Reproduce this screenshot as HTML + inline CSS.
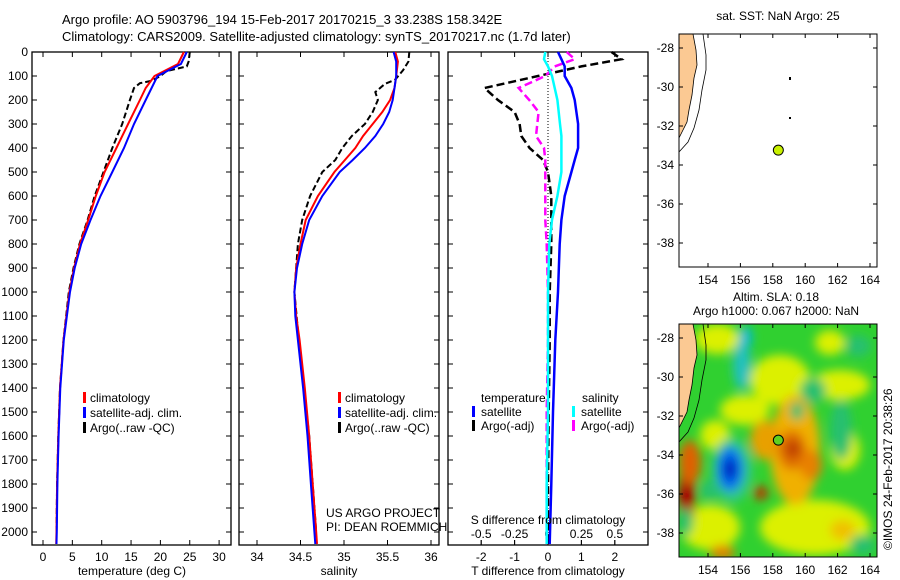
<!DOCTYPE html>
<html><head><meta charset="utf-8"><style>
body{margin:0;background:#fff;}
svg{display:block;font-family:"Liberation Sans",sans-serif;}
text{font-size:12px;fill:#000;}
</style></head><body>
<svg id="c" width="900" height="580" viewBox="0 0 900 580">
<defs>
<clipPath id="mapclip"><rect x="679" y="324" width="198" height="233"/></clipPath>
<filter id="blur" x="-20%" y="-20%" width="140%" height="140%"><feGaussianBlur stdDeviation="5"/></filter>
</defs>
<text x="62" y="24" style="font-size:13px">Argo profile: AO 5903796_194 15-Feb-2017 20170215_3 33.238S 158.342E</text>
<text x="62" y="41" style="font-size:13px">Climatology: CARS2009. Satellite-adjusted climatology: synTS_20170217.nc (1.7d later)</text>
<g id="g1"></g>
<g id="g2"></g>
<g id="g3"></g>
<g id="g4"></g>
<g id="g5"></g>
<text transform="translate(892,550) rotate(-90)" style="font-size:12px">©IMOS 24-Feb-2017 20:38:26</text>
</svg>
<script>
// ---- data ----
const depthTicks=[0,100,200,300,400,500,600,700,800,900,1000,1100,1200,1300,1400,1500,1600,1700,1800,1900,2000];
const tTicks=[0,5,10,15,20,25,30];
const sTicks=[34,34.5,35,35.5,36];
const tdTicks=[-2,-1,0,1,2];
const sdTicks=[-0.5,-0.25,0,0.25,0.5];
const sdTickLabels=["-0.5","-0.25","0","0.25","0.5"];
const climTD=[0,50,100,150,200,300,400,500,600,700,800,900,1000,1200,1400,1600,1800,2000,2050];
const climT=[24,23,19,17.5,16.5,14.5,12.5,10.5,9,7.7,6.3,5.3,4.5,3.5,2.9,2.6,2.4,2.3,2.25];
const satT=[24.5,23.5,19.5,18.5,17.5,15.5,13.8,11.8,9.8,8.1,6.5,5.4,4.6,3.55,2.95,2.65,2.45,2.35,2.3];
const argoTD=[0,40,60,80,100,120,130,150,200,300,400,500,600,700,800,900,1000,1200,1400,1600,1800,2000];
const argoT=[25,24.8,24.5,21,20,18.5,16.5,15.5,14.8,13.5,11.8,10.3,8.8,7.6,6.2,5.2,4.4,3.5,2.9,2.6,2.4,2.3];
const salD=[0,40,100,150,200,250,300,350,400,450,500,600,700,800,900,1000,1100,1200,1400,1600,1800,2000,2050];
const climS=[35.59,35.62,35.6,35.58,35.53,35.44,35.33,35.22,35.13,35.01,34.89,34.7,34.56,34.5,34.45,34.43,34.45,34.49,34.55,34.6,34.64,34.68,34.69];
const satS=[35.57,35.6,35.6,35.58,35.56,35.52,35.45,35.36,35.24,35.1,34.95,34.75,34.6,34.52,34.46,34.43,34.44,34.47,34.53,34.58,34.62,34.66,34.67];
const argoSD=[0,40,75,115,133,167,200,250,300,350,400,450,500,600,700,800,1000,1200,1400,1600,1800,2000];
const argoS=[35.75,35.74,35.68,35.59,35.47,35.36,35.39,35.33,35.24,35.09,34.98,34.9,34.75,34.61,34.52,34.47,34.43,34.48,34.54,34.6,34.64,34.68];
const diffD=[0,30,60,100,150,200,250,300,350,400,450,500,600,700,800,1000,1200,1500,1800,2050];
const satTdiff=[0.3,0.4,0.5,0.5,0.7,0.8,0.85,0.9,0.9,0.9,0.8,0.7,0.5,0.4,0.35,0.3,0.22,0.15,0.1,0.05];
const satSdiff=[-0.02,-0.03,0,0.03,0.05,0.07,0.08,0.09,0.1,0.1,0.1,0.1,0.07,0.03,0.01,0,0,0,-0.01,-0.01];
const argoTdiff=[1.9,2.2,1,-0.3,-1.9,-1.5,-1.0,-0.85,-0.8,-0.55,-0.15,0,0.1,0.1,0.1,0.05,0.05,0.02,0,0];
const argoSdiff=[0.14,0.2,0.05,-0.02,-0.22,-0.14,-0.07,-0.08,-0.09,-0.03,-0.02,-0.02,-0.02,-0.02,-0.01,0,0,-0.01,-0.01,-0.01];
const lonTicks=[154,156,158,160,162,164];
const latTicks=[-28,-30,-32,-34,-36,-38];
const floatLon=158.342, floatLat=-33.238;
// ---- helpers ----
const NS="http://www.w3.org/2000/svg";
function mk(parent,tag,attrs){const e=document.createElementNS(NS,tag);for(const k in attrs)e.setAttribute(k,attrs[k]);parent.appendChild(e);return e;}
const yD=d=>52+d*0.24;
const xT=t=>43+t*5.87;
const xS=s=>257+(s-34)*87;
const xTd=v=>548+v*33.4;
const xSd=v=>548+v*133.6;
function frame(g,x0,x1){const r=mk(g,'rect',{x:x0,y:52,width:x1-x0,height:493,fill:'none',stroke:'#000','stroke-width':1.3});
}
function yAxis(g,x0,x1,labels){depthTicks.forEach(d=>{const y=yD(d);mk(g,'line',{x1:x0,x2:x0+5,y1:y,y2:y,stroke:'#000'});mk(g,'line',{x1:x1-5,x2:x1,y1:y,y2:y,stroke:'#000'});
if(labels){const t=mk(g,'text',{x:x0-4,y:y+4,'text-anchor':'end'});t.textContent=d;}});}
function xAxis(g,ticks,labs,fx,y){ticks.forEach((v,i)=>{const x=fx(v);mk(g,'line',{x1:x,x2:x,y1:545,y2:540,stroke:'#000'});mk(g,'line',{x1:x,x2:x,y1:52,y2:57,stroke:'#000'});
const t=mk(g,'text',{x:x,y:y,'text-anchor':'middle'});t.textContent=labs[i];});}
function line(g,xs,ds,fx,col,dash,name,w){const p=xs.map((v,i)=>(i?'L':'M')+fx(v).toFixed(1)+','+yD(ds[i]).toFixed(1)).join('');
const e=mk(g,'path',{d:p,fill:'none',stroke:col,'stroke-width':w||2});if(dash)e.setAttribute('stroke-dasharray',dash);
}
function txt(g,x,y,s,name,anchor){const t=mk(g,'text',{x:x,y:y,'text-anchor':anchor||'start'});t.textContent=s;return t;}
function legMark(g,x,y,col,name){const r=mk(g,'rect',{x:x,y:y-10,width:3,height:11,fill:col});}
// ---- panel 1 ----
const g1=document.getElementById('g1');
frame(g1,32,231);yAxis(g1,32,231,true);xAxis(g1,tTicks,tTicks,xT,561);
line(g1,argoT,argoTD,xT,'#000','6,3','argo-temperature-line');
line(g1,climT,climTD,xT,'#f00',null,'climatology-temperature-line');
line(g1,satT,climTD,xT,'#00f',null,'satellite-temperature-line');
txt(g1,132,575,'temperature (deg C)','x-axis-title','middle');
[['#f00','climatology'],['#00f','satellite-adj. clim.'],['#000','Argo(..raw -QC)']].forEach((l,i)=>{legMark(g1,83,402+i*15,l[0],'legend-marker');txt(g1,90,402+i*15,l[1],'legend-entry');});
// ---- panel 2 ----
const g2=document.getElementById('g2');
frame(g2,239,439);yAxis(g2,239,439,false);xAxis(g2,sTicks,sTicks,xS,561);
line(g2,argoS,argoSD,xS,'#000','6,3','argo-salinity-line');
line(g2,climS,salD,xS,'#f00',null,'climatology-salinity-line');
line(g2,satS,salD,xS,'#00f',null,'satellite-salinity-line');
txt(g2,339,575,'salinity','x-axis-title','middle');
[['#f00','climatology'],['#00f','satellite-adj. clim.'],['#000','Argo(..raw -QC)']].forEach((l,i)=>{legMark(g2,338,402+i*15,l[0],'legend-marker');txt(g2,345,402+i*15,l[1],'legend-entry');});
txt(g2,326,517,'US ARGO PROJECT','credit-project');txt(g2,326,531,'PI: DEAN ROEMMICH','credit-pi');
// ---- panel 3 ----
const g3=document.getElementById('g3');
frame(g3,448,648);yAxis(g3,448,648,false);
tdTicks.forEach(v=>{const x=xTd(v);mk(g3,'line',{x1:x,x2:x,y1:545,y2:540,stroke:'#000'});mk(g3,'line',{x1:x,x2:x,y1:52,y2:57,stroke:'#000'});txt(g3,x,561,String(v),'t-diff-tick-label','middle');});
sdTicks.forEach((v,i)=>{const x=xSd(v);mk(g3,'line',{x1:x,x2:x,y1:545,y2:540,stroke:'#000'});txt(g3,x,538,sdTickLabels[i],'s-diff-tick-label','middle');});
mk(g3,'line',{x1:548,x2:548,y1:52,y2:545,stroke:'#000','stroke-dasharray':'1,2'});
line(g3,argoTdiff,diffD,xTd,'#000','8,4','argo-t-diff-line',2.5);
line(g3,argoSdiff,diffD,xSd,'#f0f','8,4','argo-s-diff-line',2.5);
line(g3,satSdiff,diffD,xSd,'#0ff',null,'satellite-s-diff-line',2.5);
line(g3,satTdiff,diffD,xTd,'#00f',null,'satellite-t-diff-line',2.5);
txt(g3,481,402,'temperature','legend-heading');txt(g3,582,402,'salinity','legend-heading');
legMark(g3,472,416,'#00f','legend-marker');txt(g3,481,416,'satellite','legend-entry');
legMark(g3,472,430,'#000','legend-marker');txt(g3,481,430,'Argo(-adj)','legend-entry');
legMark(g3,572,416,'#0ff','legend-marker');txt(g3,581,416,'satellite','legend-entry');
legMark(g3,572,430,'#f0f','legend-marker');txt(g3,581,430,'Argo(-adj)','legend-entry');
txt(g3,548,524,'S difference from climatology','s-axis-title','middle');
txt(g3,548,575,'T difference from climatology','t-axis-title','middle');
// ---- maps ----
const xL=l=>708+(l-154)*16.2;
function mapAxes(g,top,off){mk(g,'rect',{x:679,y:top,width:198,height:233,fill:'none',stroke:'#000'});
lonTicks.forEach(l=>{const x=xL(l);mk(g,'line',{x1:x,x2:x,y1:top,y2:top+4,stroke:'#000'});mk(g,'line',{x1:x,x2:x,y1:top+233,y2:top+229,stroke:'#000'});txt(g,x,top+250,String(l),'lon-tick-label','middle');});
latTicks.forEach(a=>{const y=off+48+(-28-a)*19.5;mk(g,'line',{x1:679,x2:683,y1:y,y2:y,stroke:'#000'});mk(g,'line',{x1:877,x2:873,y1:y,y2:y,stroke:'#000'});txt(g,674,y+4,String(a),'lat-tick-label','end');});}
const g4=document.getElementById('g4');
txt(g4,778,20,'sat. SST: NaN Argo: 25','sst-map-title','middle');
mk(g4,'path',{d:'M679,34 L693,34 L696,50 L697,65 L694,78 L692,95 L689,110 L687,122 L683,130 L679,138 Z',fill:'#fbc993',stroke:'#000','stroke-width':0.8});
mk(g4,'path',{d:'M703,34 L706,55 L706,70 L702,90 L699,110 L694,128 L688,142 L679,152',fill:'none',stroke:'#000','stroke-width':0.8});
mk(g4,'rect',{x:789,y:77,width:2,height:3,fill:'#000'});mk(g4,'rect',{x:789,y:117,width:2,height:2,fill:'#000'});
mapAxes(g4,34,0);
const fx=xL(floatLon), fyTop=48+(-28-floatLat)*19.5;
const c1=mk(g4,'circle',{cx:fx,cy:fyTop,r:5,fill:'#c8f000',stroke:'#000'});
const g5=document.getElementById('g5');
txt(g5,776,301,'Altim. SLA: 0.18','sla-title','middle');txt(g5,776,315,'Argo h1000: 0.067 h2000: NaN','height-title','middle');
const cg=mk(g5,'g',{'clip-path':'url(#mapclip)'});
mk(cg,'rect',{x:679,y:324,width:198,height:233,fill:'#30d030'});
const bg=mk(cg,'g',{filter:'url(#blur)'});
[['#dcf000',695,324,45,30],['#dcf000',720,395,50,30],['#dcf000',750,355,60,50],['#dcf000',810,370,60,30],['#dcf000',815,330,30,25],['#dcf000',760,500,110,55],['#dcf000',680,505,60,45],['#dcf000',700,420,30,30],['#dcf000',830,430,30,40],
['#f0b000',770,395,50,110],['#e8a000',750,420,30,40],['#e07000',778,430,28,40],['#c04000',785,440,16,18],['#c03000',754,486,14,14],['#e88000',800,450,22,30],['#f0c000',830,520,25,20],['#e08000',710,545,25,15],
['#b00000',679,455,16,80],['#e06000',679,440,22,45],
['#20c0c0',733,340,18,50],['#00b8e0',740,326,12,22],['#30c890',712,438,40,64],['#0070f0',717,447,26,44],['#0020c0',723,458,14,22],['#28c070',790,402,14,18],['#28c070',800,378,26,25],['#28c070',830,400,22,60],['#28c070',850,535,25,20],['#28c070',679,508,14,28],['#28c070',845,335,26,22],['#28c070',700,480,20,20]
].forEach(r=>{mk(bg,'ellipse',{cx:r[1]+r[3]/2,cy:r[2]+r[4]/2,rx:r[3]/2,ry:r[4]/2,fill:r[0]});});
mk(cg,'path',{d:'M679,324 L693,324 L696,340 L697,355 L694,368 L692,385 L689,400 L687,412 L683,420 L679,428 Z',fill:'#fbc993',stroke:'#000','stroke-width':0.8});
mk(cg,'path',{d:'M703,324 L706,345 L706,360 L702,380 L699,400 L694,418 L688,432 L679,442',fill:'none',stroke:'#000','stroke-width':0.8});
mapAxes(g5,324,290);
const c2=mk(g5,'circle',{cx:fx,cy:fyTop+290,r:5,fill:'#60d020',stroke:'#000'});
</script>
</body></html>
